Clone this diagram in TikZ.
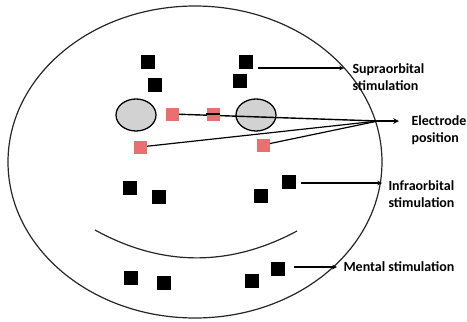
\documentclass[tikz,border=0pt]{standalone}
\usepackage{fontspec}
\setmainfont{Carlito}
\definecolor{padred}{RGB}{232,112,112}
\definecolor{eyegray}{RGB}{210,210,210}
\begin{document}
\begin{tikzpicture}[x=1pt, y=-1pt, >=stealth, line width=1pt,
    pad/.style={fill=black, minimum size=14pt, inner sep=0pt},
    electrode/.style={fill=padred, minimum size=13pt, inner sep=0pt},
    eye/.style={draw, line width=1.3pt, fill=eyegray},
    tag/.style={font=\bfseries\fontsize{14}{17}\selectfont, align=left, anchor=west, inner sep=0pt}]
    \useasboundingbox (0,0) rectangle (467,322);

    % face outline
    \draw[line width=1.2pt, black!85] (195,162) ellipse [x radius=187, y radius=156];

    % eyes
    \draw[eye] (136,115) ellipse [x radius=20, y radius=16];
    \draw[eye] (256,115) ellipse [x radius=20, y radius=16];

    % mouth
    \draw[line width=1.2pt, black!85] (95,230) .. controls (162,267) and (230,267) .. (297,231);

    % supraorbital pads
    \node[pad] (so1) at (148,62) {};
    \node[pad] (so2) at (155,85) {};
    \node[pad] (so3) at (246,62) {};
    \node[pad] (so4) at (240,81) {};

    % infraorbital pads
    \node[pad] (io1) at (130,188) {};
    \node[pad] (io2) at (159,197) {};
    \node[pad] (io3) at (261,196) {};
    \node[pad] (io4) at (289,182) {};

    % mental pads
    \node[pad] (mt1) at (131,278) {};
    \node[pad] (mt2) at (164,283) {};
    \node[pad] (mt3) at (252,281) {};
    \node[pad] (mt4) at (278,269) {};

    % electrodes
    \node[electrode] (el1) at (172,114) {};
    \node[electrode] (el3) at (140,147) {};
    \node[electrode] (el4) at (263,145) {};

    % labels
    \node[tag] (supra) at (352,77.5) {Supraorbital\\stimulation};
    \node[tag] (epos) at (411,130) {Electrode\\position};
    \node[tag] (infra) at (388,194) {Infraorbital\\stimulation};
    \node[tag] (ment) at (343,267) {Mental stimulation};

    \coordinate (hub) at (378,121);
    \coordinate (eposend) at (399,121);
    \coordinate (supraend) at (344,68);
    \coordinate (infraend) at (382,183);
    \coordinate (mentend) at (337,267);

    % connectors
    \draw[line width=1.4pt] (el1) -- (hub);
    \draw[line width=1.2pt] (el3) -- (hub);
    \draw[line width=1.2pt] (el4) -- (hub);
    \draw[->, line width=1.5pt] (hub) -- (eposend);
    \node[electrode] (el2) at (213,114) {};
    \draw[line width=1.4pt] (el2.west) -- (el2.east);

    \draw[->, line width=1.1pt] (so3.east |- supraend) ++(4,0) -- (supraend);
    \draw[->, line width=1.1pt] (io4.east) ++(4,1) -- (infraend);
    \draw[->, line width=1.1pt] (mt4.east) ++(8,-2) -- (mentend);
\end{tikzpicture}
\end{document}
